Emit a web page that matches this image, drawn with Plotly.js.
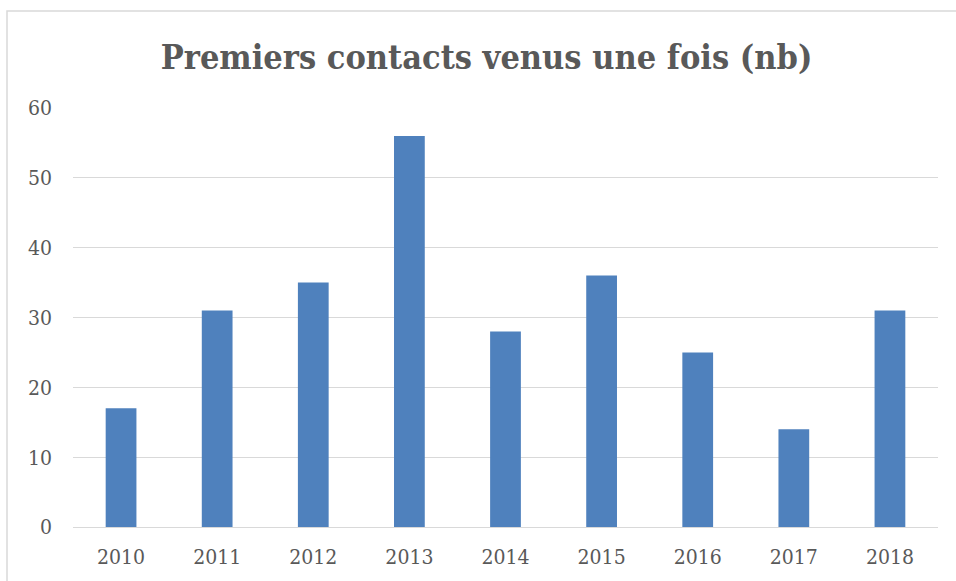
<!DOCTYPE html>
<html>
<head>
<meta charset="utf-8">
<script src="https://cdn.plot.ly/plotly-3.0.1.min.js"></script>
<style>html,body{margin:0;padding:0;background:#fff;}#chart{width:956px;height:581px;}</style>
</head>
<body>
<div id="chart"></div>
<script>
const years = ["2010","2011","2012","2013","2014","2015","2016","2017","2018"];
const contacts = [17, 31, 35, 56, 28, 36, 25, 14, 31];
const yTicks = [0, 10, 20, 30, 40, 50, 60];
const chartTitle = "Premiers contacts venus une fois (nb)";

const tickFont = {family: "'DejaVu Serif Condensed', 'DejaVu Serif', serif", size: 21, color: "#595959"};

Plotly.newPlot("chart", [{
  type: "bar",
  x: years,
  y: contacts,
  marker: {color: "#4f81bd"},
  hoverinfo: "x+y"
}], {
  width: 956, height: 581,
  margin: {l: 73, r: 18, t: 108, b: 54},
  paper_bgcolor: "#fff", plot_bgcolor: "#fff",
  bargap: 0.68,
  showlegend: false,
  title: {
    text: "<b>" + chartTitle + "</b>",
    font: {family: "'DejaVu Serif Condensed', 'Liberation Serif', serif", size: 34, color: "#595959"},
    x: 0.509, xanchor: "center", xref: "container",
    y: 0.902, yanchor: "middle", yref: "container"
  },
  xaxis: {
    type: "category",
    tickfont: tickFont,
    showgrid: false, showline: false, zeroline: false,
    ticks: "", ticklabelstandoff: 15
  },
  yaxis: {
    range: [0, 60],
    tickvals: yTicks,
    tickfont: tickFont,
    showgrid: true, gridcolor: "#d9d9d9", gridwidth: 1,
    zeroline: true, zerolinecolor: "#d9d9d9", zerolinewidth: 1,
    showline: false, ticks: "", ticklabelstandoff: 20
  },
  shapes: [{
    type: "rect", xref: "paper", yref: "paper",
    x0: -0.0763, x1: 1.2, y0: -0.3, y1: 1.2315,
    line: {color: "#d9d9d9", width: 1.5}, fillcolor: "rgba(0,0,0,0)", layer: "below"
  }]
}, {displayModeBar: false, staticPlot: true});
</script>
</body>
</html>
